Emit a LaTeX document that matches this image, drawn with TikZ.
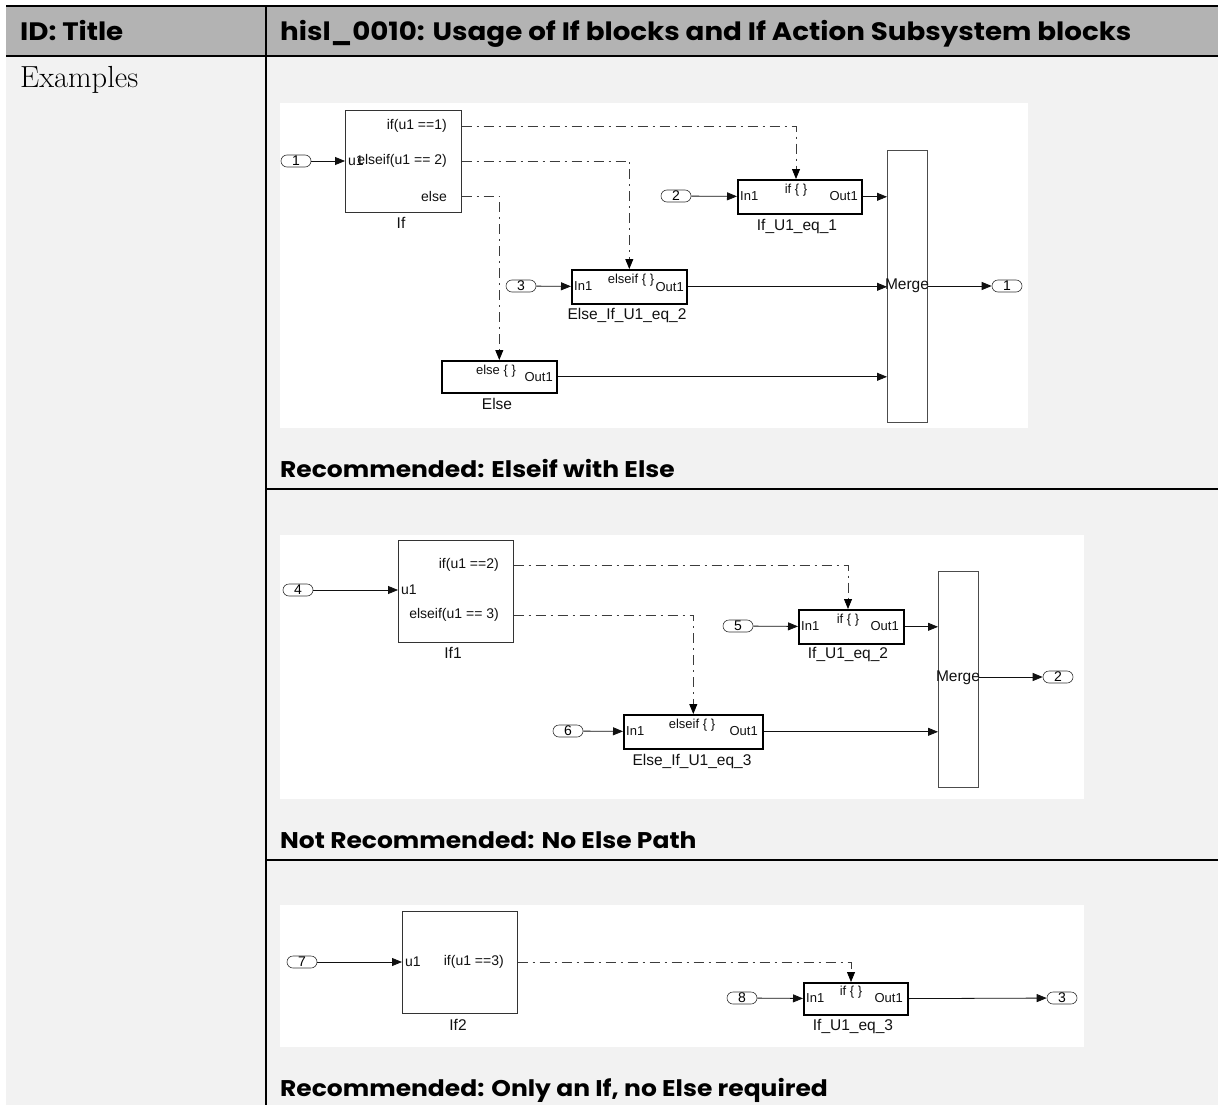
\documentclass[tikz,border=0pt]{standalone}
\usepackage{fontspec}
\newfontfamily\slfont{Liberation Sans}
\newfontfamily\hdfont[FakeStretch=1.1]{Poppins}
\usetikzlibrary{arrows.meta}
\definecolor{hdrgray}{HTML}{B3B3B3}
\definecolor{pagegray}{HTML}{F2F2F2}
\definecolor{wireblk}{HTML}{111111}
\definecolor{ctlgray}{HTML}{3C3C3C}

\begin{document}
\begin{tikzpicture}[x=1pt,y=-1pt,
  sig/.style={draw=wireblk,line width=0.8pt,-{Triangle[length=10pt,width=8pt]}},
  ctl/.style={draw=ctlgray,line width=0.8pt,dash pattern=on 10pt off 5pt on 2pt off 5pt,-{Triangle[length=10pt,width=8pt,color=black]}},
  ifblk/.style={draw=black!80,line width=0.6pt,fill=white,inner sep=0pt,anchor=north west},
  actblk/.style={draw=black,line width=1.6pt,fill=white,inner sep=0pt,anchor=north west},
  mrgblk/.style={draw=black!70,line width=0.6pt,fill=white,inner sep=0pt,anchor=north west,minimum width=40pt},
  ioport/.style={draw=black!80,line width=0.6pt,rounded corners=6pt,minimum width=30pt,minimum height=12pt,inner sep=0pt,font=\slfont\fontsize{14}{14}\selectfont},
  plbl/.style={inner sep=0pt,text=wireblk,font=\slfont\fontsize{14}{16}\selectfont},
  inlbl/.style={inner sep=0pt,text=wireblk,font=\slfont\fontsize{13}{15}\selectfont},
  nmlbl/.style={inner sep=0pt,text=wireblk,font=\slfont\fontsize{15.5}{18}\selectfont},
  captxt/.style={inner sep=0pt,anchor=base west,font=\hdfont\bfseries\fontsize{22.7}{26}\selectfont}]
  \useasboundingbox (0,0) rectangle (1218,1105);

  % table frame
  \fill[pagegray] (6,6) rectangle (1218,1105);
  \fill[hdrgray] (6,6) rectangle (1218,56);
  \draw[line width=2.5pt] (6,6) -- (1218,6);
  \draw[line width=2pt] (6,56) -- (1218,56);
  \draw[line width=2.2pt] (266,6) -- (266,1105);
  \draw[line width=1.5pt] (266,489) -- (1218,489);
  \draw[line width=1.5pt] (266,860) -- (1218,860);
  \node[captxt,font=\hdfont\bfseries\fontsize{25.2}{28}\selectfont] (hdid) at (20,41) {ID: Title};
  \node[captxt,font=\hdfont\bfseries\fontsize{25.2}{28}\selectfont] (hdtitle) at (280,41) {hisl\_0010: Usage of If blocks and If Action Subsystem blocks};
  \node[inner sep=0pt,anchor=base west,font=\fontsize{30.5}{34}\selectfont] (examples) at (20,88) {Examples};

  % panel 1: elseif with else
  \fill[white] (280,103) rectangle (1028,428);
  \node[ifblk,minimum width=116pt,minimum height=102pt] (ifA) at (345,110) {};
  \node[plbl,anchor=east] (ifA-o1) at (447,126) {if(u1 ==1)};
  \node[plbl,anchor=east] (ifA-o2) at (447,161) {elseif(u1 == 2)};
  \node[plbl,anchor=east] (ifA-o3) at (447,196) {else};
  \node[plbl,anchor=west] (ifA-u) at (348,161) {u1};
  \node[nmlbl] (ifA-nm) at (401,223) {If};
  \node[ioport] (inA1) at (296,161) {1};
  \draw[sig] (inA1) -- (inA1 -| ifA.west);

  \node[actblk,minimum width=124pt,minimum height=34pt] (actA1) at (737,179) {};
  \node[inlbl,anchor=west] (actA1-i) at (740,196) {In1};
  \node[inlbl] (actA1-t) at (796,190) {if \{ \}};
  \node[inlbl,anchor=east] (actA1-o) at (858,196) {Out1};
  \node[nmlbl] (actA1-nm) at (797,226) {If\_U1\_eq\_1};
  \node[ioport] (inA2) at (676,196) {2};
  \draw[sig] (inA2) -- (actA1);

  \node[actblk,minimum width=115pt,minimum height=34pt] (actA2) at (571,269) {};
  \node[inlbl,anchor=west] (actA2-i) at (574,286) {In1};
  \node[inlbl] (actA2-t) at (631,280) {elseif \{ \}};
  \node[inlbl,anchor=east] (actA2-o) at (684,287) {Out1};
  \node[nmlbl] (actA2-nm) at (627,315) {Else\_If\_U1\_eq\_2};
  \node[ioport] (inA3) at (521,286) {3};
  \draw[sig] (inA3) -- (actA2);

  \node[actblk,minimum width=115pt,minimum height=32pt] (actA3) at (441,360) {};
  \node[inlbl] (actA3-t) at (496,371) {else \{ \}};
  \node[inlbl,anchor=east] (actA3-o) at (553,377) {Out1};
  \node[nmlbl] (actA3-nm) at (497,404) {Else};

  \node[mrgblk,minimum height=272pt] (mrgA) at (887,150) {};
  \node[nmlbl] (mrgA-t) at (907,286) {Merge};
  \node[ioport] (outA1) at (1007,286) {1};
  \draw[sig] (actA1) -- (actA1 -| mrgA.west);
  \draw[sig] (actA2) -- (actA2 -| mrgA.west);
  \draw[sig] (actA3) -- (actA3 -| mrgA.west);
  \draw[sig] (outA1 -| mrgA.east) -- (outA1);

  \draw[ctl] (ifA-o1 -| ifA.east) -| (actA1-t |- actA1.north);
  \draw[ctl] (ifA-o2 -| ifA.east) -| (actA2.north);
  \draw[ctl] (ifA-o3 -| ifA.east) -| (actA3.north);
  \node[captxt] (capA) at (280,477) {Recommended: Elseif with Else};

  % panel 2: no else path
  \fill[white] (280,535) rectangle (1084,799);
  \node[ifblk,minimum width=115pt,minimum height=102pt] (ifB) at (398,540) {};
  \node[plbl,anchor=east] (ifB-o1) at (499,565) {if(u1 ==2)};
  \node[plbl,anchor=west] (ifB-u) at (401,590) {u1};
  \node[plbl,anchor=east] (ifB-o2) at (499,615) {elseif(u1 == 3)};
  \node[nmlbl] (ifB-nm) at (453,653) {If1};
  \node[ioport] (inB4) at (298,590) {4};
  \draw[sig] (inB4) -- (inB4 -| ifB.west);

  \node[actblk,minimum width=105pt,minimum height=34pt] (actB1) at (798,609) {};
  \node[inlbl,anchor=west] (actB1-i) at (801,626) {In1};
  \node[inlbl] (actB1-t) at (848,620) {if \{ \}};
  \node[inlbl,anchor=east] (actB1-o) at (899,626) {Out1};
  \node[nmlbl] (actB1-nm) at (848,654) {If\_U1\_eq\_2};
  \node[ioport] (inB5) at (738,626) {5};
  \draw[sig] (inB5) -- (actB1);

  \node[actblk,minimum width=139pt,minimum height=34pt] (actB2) at (623,714) {};
  \node[inlbl,anchor=west] (actB2-i) at (626,731) {In1};
  \node[inlbl] (actB2-t) at (692,725) {elseif \{ \}};
  \node[inlbl,anchor=east] (actB2-o) at (758,731) {Out1};
  \node[nmlbl] (actB2-nm) at (692,761) {Else\_If\_U1\_eq\_3};
  \node[ioport] (inB6) at (568,731) {6};
  \draw[sig] (inB6) -- (actB2);

  \node[mrgblk,minimum height=216pt] (mrgB) at (938,571) {};
  \node[nmlbl] (mrgB-t) at (958,678) {Merge};
  \node[ioport] (outB2) at (1058,677) {2};
  \draw[sig] (actB1) -- (actB1 -| mrgB.west);
  \draw[sig] (actB2) -- (actB2 -| mrgB.west);
  \draw[sig] (outB2 -| mrgB.east) -- (outB2);

  \draw[ctl] (ifB-o1 -| ifB.east) -| (actB1-t |- actB1.north);
  \draw[ctl] (ifB-o2 -| ifB.east) -| (actB2.north);
  \node[captxt] (capB) at (280,848) {Not Recommended: No Else Path};

  % panel 3: only an if
  \fill[white] (280,905) rectangle (1084,1047);
  \node[ifblk,minimum width=115pt,minimum height=102pt] (ifC) at (402,911) {};
  \node[plbl,anchor=west] (ifC-u) at (405,962) {u1};
  \node[plbl,anchor=east] (ifC-o1) at (504,962) {if(u1 ==3)};
  \node[nmlbl] (ifC-nm) at (458,1025) {If2};
  \node[ioport] (inC7) at (302,962) {7};
  \draw[sig] (inC7) -- (inC7 -| ifC.west);

  \node[actblk,minimum width=104pt,minimum height=32pt] (actC1) at (803,982) {};
  \node[inlbl,anchor=west] (actC1-i) at (806,998) {In1};
  \node[inlbl] (actC1-t) at (851,992) {if \{ \}};
  \node[inlbl,anchor=east] (actC1-o) at (903,998) {Out1};
  \node[nmlbl] (actC1-nm) at (853,1026) {If\_U1\_eq\_3};
  \node[ioport] (inC8) at (742,998) {8};
  \node[ioport] (outC3) at (1062,998) {3};
  \draw[sig] (inC8) -- (actC1);
  \draw[sig] (actC1) -- (outC3);

  \draw[ctl] (ifC-o1 -| ifC.east) -| (actC1-t |- actC1.north);
  \node[captxt] (capC) at (280,1096) {Recommended: Only an If, no Else required};
\end{tikzpicture}
\end{document}
